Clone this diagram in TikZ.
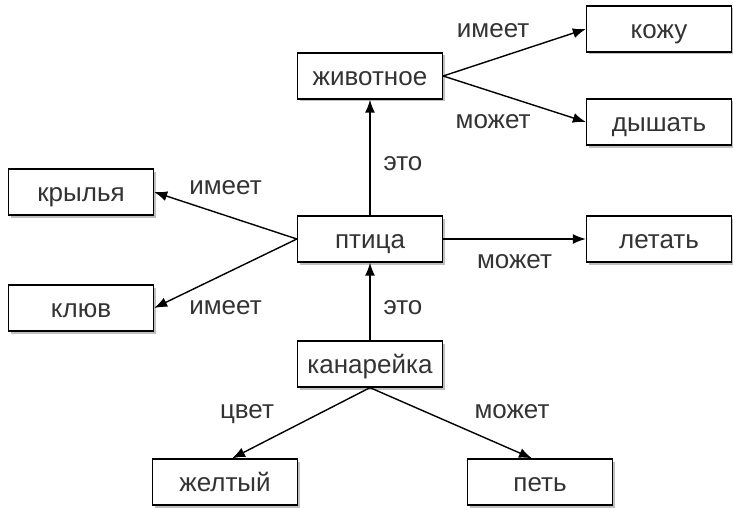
\documentclass[tikz,border=0pt]{standalone}
\usepackage{fontspec}
\setmainfont{Liberation Sans}
\usetikzlibrary{arrows.meta,shadows}

\begin{document}
\begin{tikzpicture}[
      x=1pt,y=-1pt,
      every node/.style={font=\fontsize{26}{30}\selectfont,text=black!80,
        text height=20pt,text depth=.5pt},
      box/.style={draw,line width=1.3pt,fill=white,minimum width=145pt,minimum height=46pt,
        drop shadow={shadow xshift=2.5pt,shadow yshift=-2.5pt,fill=black,opacity=.25}},
      link/.style={line width=1.4pt,-{Latex[length=13pt,width=10pt]}},
      lbl/.style={inner sep=0pt}
    ]
    \useasboundingbox (0,0) rectangle (733,508);
    \node [box] (anim) at (370,76)  {животное};
    \node [box] (skin) at (659,29)  {кожу};
    \node [box] (brth) at (659,122) {дышать};
    \node [box] (wing) at (81,192)  {крылья};
    \node [box] (bird) at (370,239) {птица};
    \node [box] (fly)  at (659,239) {летать};
    \node [box] (beak) at (81,308)  {клюв};
    \node [box] (can)  at (370,364) {канарейка};
    \node [box] (yel)  at (225,482) {желтый};
    \node [box] (sing) at (540,482) {петь};

    \draw [link] (anim.east) -- node[lbl,pos=.35,yshift=32pt] {имеет} (skin.west);
    \draw [link] (anim.east) -- node[lbl,pos=.35,yshift=-27pt] {может} (brth.west);
    \draw [link] (bird.north) -- node[lbl,pos=.45,xshift=33pt,yshift=3pt] {это} (anim.south);
    \draw [link] (bird.west) -- node[lbl,pos=.5,yshift=30.5pt] {имеет} (wing.east);
    \draw [link] (bird.west) -- node[lbl,pos=.5,yshift=-31.5pt] {имеет} (beak.east);
    \draw [link] (bird.east) -- node[lbl,pos=.5,yshift=-20pt] {может} (fly.west);
    \draw [link] (can.north) -- node[lbl,pos=.5,xshift=33pt,yshift=-3pt] {это} (bird.south);
    \draw [link] (can.south) -- node[lbl,pos=.5,xshift=-54pt,yshift=14pt] {цвет} ([xshift=7pt]yel.north);
    \draw [link] (can.south) -- node[lbl,pos=.5,xshift=61pt,yshift=14pt] {может} ([xshift=-8pt]sing.north);
  \end{tikzpicture}
\end{document}
